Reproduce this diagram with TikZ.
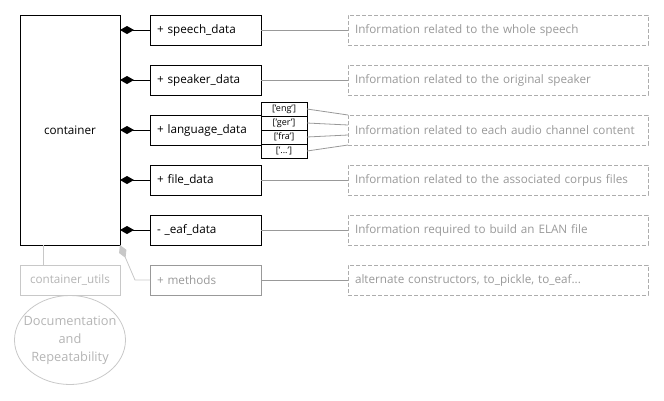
\documentclass[tikz,border=0pt]{standalone}
\usepackage{fontspec}
\setmainfont{Open Sans}
\usetikzlibrary{arrows.meta,positioning,calc}
\definecolor{infogray}{HTML}{999999}
\definecolor{lightgray}{HTML}{C8C8C8}
\begin{document}
\begin{tikzpicture}[x=1pt, y=-1pt,
    every node/.style={font=\fontsize{11.7}{13}\selectfont, inner sep=0pt, outer sep=0pt},
    member/.style={draw, line width=1pt, text width=97pt, inner xsep=7pt, minimum height=30pt, align=left},
    info/.style={draw=infogray!80, dashed, dash pattern=on 4pt off 2pt, text=infogray, text width=286pt, inner xsep=7pt, minimum height=30pt, align=left},
    key/.style={draw, line width=0.8pt, font=\fontsize{9}{10}\selectfont, minimum width=46pt, minimum height=14pt},
    owns/.style={line width=1pt, -{Diamond[length=14pt, width=8pt]}},
    link/.style={infogray, line width=0.8pt}]
  \useasboundingbox (0,0) rectangle (664,400);
  \node (container) [draw, line width=1pt, minimum width=100pt, minimum height=230pt] at (70,130) {container};
  \node (speech) [member] at (205.5,30) {+ speech\_data};
  \node (speaker) [member] at (205.5,80) {+ speaker\_data};
  \node (language) [member] at (205.5,130) {+ language\_data};
  \node (file) [member] at (205.5,180) {+ file\_data};
  \node (eaf) [member] at (205.5,230) {- \_eaf\_data};
  \node (methods) [member, draw=infogray, text=infogray] at (205.5,280) {+ methods};
  % language keys
  \node (eng) [key] at (284,109) {['eng']};
  \node (ger) [key, below=0pt of eng] {['ger']};
  \node (fra) [key, below=0pt of ger] {['fra']};
  \node (etc) [key, below=0pt of fra] {['...']};
  % descriptions
  \node (infospeech) [info] at (498,30) {Information related to the whole speech};
  \node (infospeaker) [info] at (498,80) {Information related to the original speaker};
  \node (infolanguage) [info] at (498,130) {Information related to each audio channel content};
  \node (infofile) [info] at (498,180) {Information related to the associated corpus files};
  \node (infoeaf) [info] at (498,230) {Information required to build an ELAN file};
  \node (infomethods) [info] at (498,280) {alternate constructors, to\_pickle, to\_eaf...};
  \node (utils) [draw=lightgray, text=lightgray!90!black, minimum width=100pt, minimum height=30pt] at (70,280) {container\_utils};
  \node (doc) [text=lightgray!90!black, align=center, font=\fontsize{12.8}{18}\selectfont] at (70,340) {Documentation\\and\\Repeatability};
  \draw[lightgray, line width=0.8pt] (doc.center) ellipse [x radius=55.5pt, y radius=44.5pt];
  % composition
  \foreach \m in {speech, speaker, language, file, eaf}
    \draw[owns] (\m.west) -- (\m.west -| container.east);
  \draw[lightgray, line width=0.8pt, -{Diamond[length=14pt, width=8pt, fill=lightgray]}]
    (methods.west) -- ++(-15,0) -- (container.south east);
  \draw[lightgray, line width=0.8pt] (container.south west) ++(23,0) coordinate (cu) -- (cu |- utils.north);
  % descriptions links
  \foreach \m in {speech, speaker, file, eaf, methods}
    \draw[link] (\m) -- (info\m);
  \foreach \k [count=\i from 0] in {eng, ger, fra, etc}
    \draw[link] (\k.east) -- ($(infolanguage.north west)!\i/3!(infolanguage.south west)$);
\end{tikzpicture}
\end{document}
